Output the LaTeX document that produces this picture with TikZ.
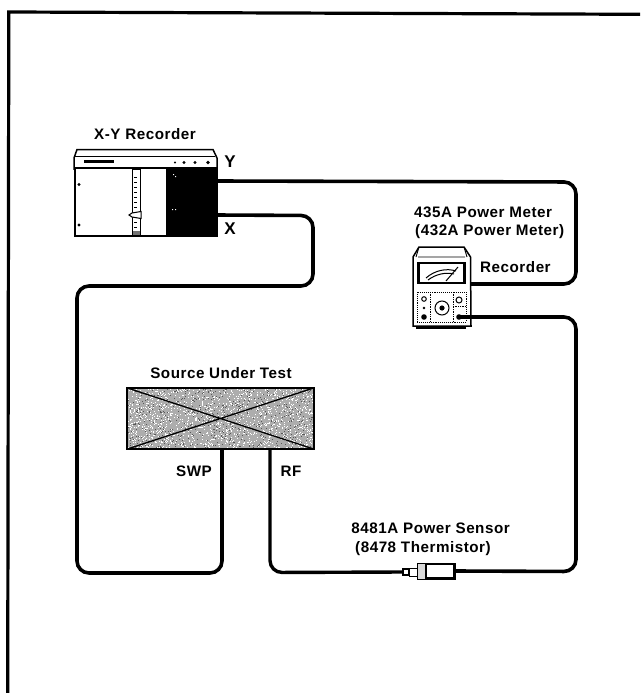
\documentclass[tikz,border=0pt]{standalone}
\usepackage{fontspec}
\setmainfont{Liberation Sans}[LetterSpace=3.5]
\tikzset{
 lbl/.style={inner sep=0pt,font=\fontsize{15.2}{18}\selectfont\bfseries,align=left},
 cable/.style={line width=3.6pt,rounded corners=12pt,draw=black},
 thin part/.style={line width=1.5pt,draw=black},
 anchorbox/.style={inner sep=0pt,minimum width=0pt,minimum height=0pt},
}
\pgfmathsetseed{4242}
\begin{document}
\begin{tikzpicture}[x=1pt,y=-1pt]
\useasboundingbox (0,0) rectangle (640,693);
% frame
\fill[white] (0,0) rectangle (640,693);
\draw[line width=3.2pt] (7.7,693) -- (8.8,12) -- (640,14.3);
% source box
\node[anchorbox,minimum width=187pt,minimum height=61pt,fill=black!32] (src) at (220.5,418.5) {};
\begin{scope}
\foreach \i in {1,...,1500}{
 \pgfmathsetmacro{\px}{127+186*rnd}\pgfmathsetmacro{\py}{388+60*rnd}
 \fill[white] (\px,\py) rectangle ++(1,1);
}
\foreach \i in {1,...,600}{
 \pgfmathsetmacro{\px}{127+186*rnd}\pgfmathsetmacro{\py}{388+60*rnd}
 \fill[black!65] (\px,\py) rectangle ++(1,1);
}
\end{scope}
\draw[line width=1.5pt] (src.north west) rectangle (src.south east);
\draw[line width=1.3pt] (src.north west) -- (src.south east) (src.north east) -- (src.south west);
\coordinate (swp) at (222,449);
\coordinate (rfp) at (270,449);
% recorder
\node[anchorbox,minimum width=142pt,minimum height=67pt] (rec) at (146,202) {};
\draw[thin part,fill=white] (74,169) -- (74,158) -- (77,149.5) -- (213,149.5) -- (217,158) -- (217,169) -- cycle;
\draw[line width=0.9pt] (75,156.5) -- (215,156.5);
\fill (84,160) rectangle (114,163);
\foreach \kx/\kr in {175/1.1,184/1.6,195/1.6,208/1.8} \fill (\kx,162.5) circle (\kr);
\draw[line width=1.8pt,fill=white] (rec.north west) rectangle (rec.south east);
\fill (166,169) rectangle (217,235.5);
\fill[white] (173,174) rectangle ++(1,1) (175,176) rectangle ++(1,1) (172,209) rectangle ++(1,1) (175,209) rectangle ++(1,1);
\fill (79,184.5) circle (1.6) (79,225) circle (1.6);
\draw[line width=0.9pt,fill=white] (132,169) rectangle (140,235);
\fill[black!55] (132.5,231) rectangle (139.5,234.5);
\foreach \ty in {177,182,187,192,197,202,207,222,227} \draw[line width=0.7pt] (134,\ty) -- (137,\ty);
\draw[line width=1pt,fill=white] (129,215) -- (132,213) -- (141,211.5) -- (141,218.5) -- (132,217) -- cycle;
\coordinate (recy) at (216,181);
\coordinate (recx) at (216,215);
% meter
\node[anchorbox,minimum width=58pt,minimum height=70pt] (met) at (442,291) {};
\draw[thin part,fill=white] (413,326) -- (413,257) -- (419,247) -- (464,247) -- (470.5,257) -- (471,326) -- cycle;
\draw[line width=0.9pt] (418,257) -- (465,257) (419,247) -- (416,257) (464,247) -- (467,257);
\draw[line width=2.6pt,fill=white] (418.5,263) rectangle (464.5,283);
\draw[line width=1pt] (426,278) .. controls (435,270) and (447,268) .. (456,271);
\draw[line width=1pt] (428,280) .. controls (436,274) and (446,272) .. (454,274);
\draw[line width=1pt] (446,281) -- (458,267);
\draw[line width=0.9pt,densely dotted] (417,292) rectangle (466,322);
\draw[line width=0.7pt,densely dotted] (430,292) -- (430,322) (453,292) -- (453,322) (453,306) -- (466,306);
\draw[line width=1pt] (424,299) circle (2.3) (459,300) circle (3);
\fill (424,308) circle (1.3) (424,317) circle (2.8) (459,317) circle (2.8);
\draw[line width=1pt] (442,308) circle (7);
\fill (442,308) circle (2.6);
\draw[line width=1.6pt] (416,328) -- (466,328);
\coordinate (metout) at (471,284);
\coordinate (metin) at (459,317);
% sensor
\node[anchorbox,minimum width=38pt,minimum height=16pt,draw,line width=1pt,fill=black!15] (sen) at (436,571) {};
\draw[line width=1.6pt,fill=white] (426,564) rectangle (454,578);
\draw[line width=1pt,fill=white] (409,568) rectangle (417,576);
\draw[line width=1.2pt,fill=white] (403,569) rectangle (409,575);
\coordinate (sena) at (403,572);
% cables
\draw[cable] (recy) -- (576,182) -- (576,284) -- (metout);
\draw[cable] (metin) -- (576,317) -- (576,571.5) -- (sen.east);
\draw[cable,line width=3.4pt] (sena) -- (270,572.5) -- (rfp);
\draw[cable] (swp) -- (222,573) -- (77,573) -- (77,286) -- (313,286) -- (313,215.5) -- (recx);
% labels
\node[lbl] (t1) at (145,134) {X-Y Recorder};
\node[lbl,font=\fontsize{17}{18}\selectfont\bfseries] (t2) at (230,162) {Y};
\node[lbl,font=\fontsize{17}{18}\selectfont\bfseries] (t3) at (230,229) {X};
\node[lbl,anchor=base west] (t4) at (414,217.5) {435A Power Meter};
\node[lbl,anchor=base west] (t5) at (415,235.5) {(432A Power Meter)};
\node[lbl,anchor=west] (t6) at (480,267) {Recorder};
\node[lbl] (t7) at (221,373) {Source Under Test};
\node[lbl] (t8) at (194,471) {SWP};
\node[lbl] (t9) at (291,471) {RF};
\node[lbl,anchor=base east] (t10) at (510,533.5) {8481A Power Sensor};
\node[lbl,anchor=base west] (t11) at (355,552) {(8478 Thermistor)};
\end{tikzpicture}
\end{document}
